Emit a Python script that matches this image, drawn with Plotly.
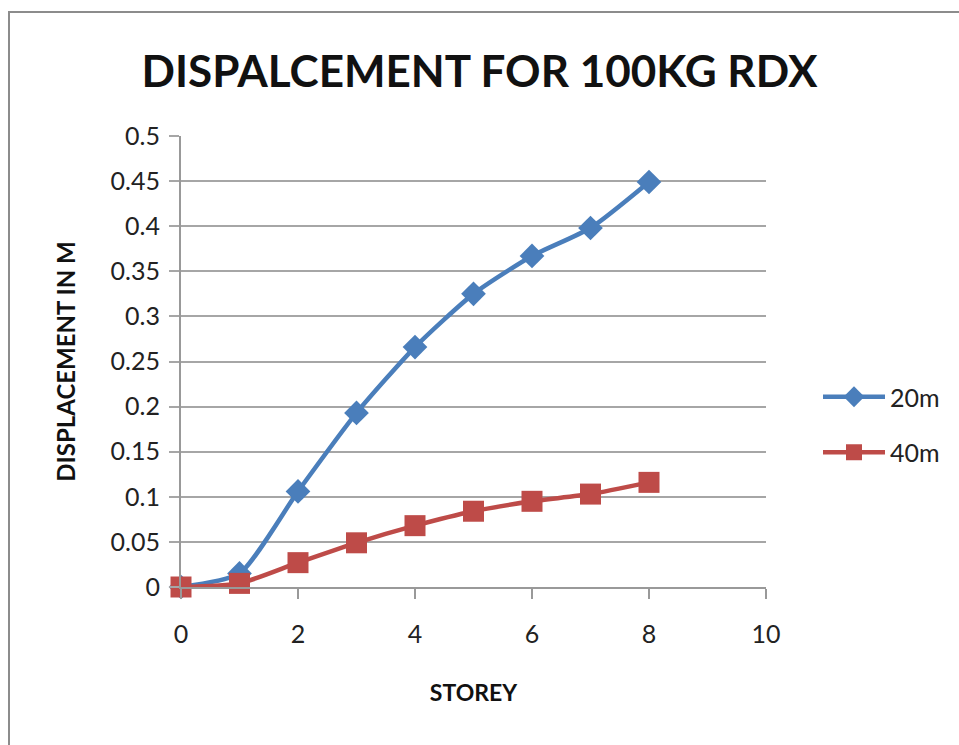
import plotly.graph_objects as go

storey = [0, 1, 2, 3, 4, 5, 6, 7, 8]
disp_20m = [0.0, 0.015, 0.106, 0.193, 0.266, 0.325, 0.367, 0.398, 0.449]
disp_40m = [0.0, 0.004, 0.027, 0.049, 0.068, 0.084, 0.095, 0.103, 0.116]

BLUE = "#4a7ebb"
RED = "#be4b48"
FONT = "Lato"

fig = go.Figure()
fig.add_trace(go.Scatter(
    x=storey, y=disp_20m, name="20m", mode="lines+markers", legendgroup="a",
    line=dict(color=BLUE, width=4.5, shape="spline", smoothing=0.6),
    marker=dict(symbol="diamond", size=19, color=BLUE), cliponaxis=False,
))
fig.add_trace(go.Scatter(
    x=storey, y=disp_40m, name="40m", mode="lines+markers", legendgroup="b",
    line=dict(color=RED, width=4.5, shape="spline", smoothing=0.6),
    marker=dict(symbol="square", size=21, color=RED), cliponaxis=False,
))

L, R, T, B = 181, 766, 136, 587
W, H = 959, 745

def px2paper_x(px):
    return (px - L) / (R - L)

def px2paper_y(py):
    return (B - py) / (B - T)

fig.update_layout(
    width=W, height=H,
    margin=dict(l=L, r=W - R, t=T, b=H - B, pad=0),
    paper_bgcolor="white", plot_bgcolor="white",
    font=dict(family=FONT, color="#222222", size=25),
    title=dict(text="<b>DISPALCEMENT FOR 100KG RDX</b>",
               font=dict(family=FONT, size=44, color="#111111"),
               x=0.5, xanchor="center", y=1 - 72 / H, yanchor="middle"),
    showlegend=True,
    legend=dict(x=px2paper_x(818), y=px2paper_y(374), xanchor="left", yanchor="top",
                font=dict(family=FONT, size=25, color="#222222"),
                tracegroupgap=20, itemwidth=62, bgcolor="rgba(0,0,0,0)"),
    xaxis=dict(range=[0, 10], dtick=2, tick0=0, showgrid=False, zeroline=False,
               showline=True, linecolor="#999999", linewidth=2,
               ticks="outside", ticklen=10, tickcolor="#999999", tickwidth=2,
               ticklabelstandoff=14,
               tickfont=dict(family=FONT, size=25, color="#222222"),
               title=dict(text="<b>STOREY</b>", font=dict(family=FONT, size=23, color="#111111"),
                          standoff=38)),
    yaxis=dict(range=[0, 0.5], dtick=0.05, tick0=0, showgrid=True,
               gridcolor="#a6a6a6", gridwidth=2, zeroline=False,
               showline=True, linecolor="#999999", linewidth=2,
               ticks="outside", ticklen=10, tickcolor="#a6a6a6", tickwidth=2,
               tickfont=dict(family=FONT, size=25, color="#222222"),
               ticklabelstandoff=4,
               title=dict(text="<b>DISPLACEMENT IN M</b>", font=dict(family=FONT, size=24, color="#111111"),
                          standoff=28)),
)

# outer chart border (partially off-page, as in the reference)
fig.add_shape(type="rect", xref="paper", yref="paper",
              x0=px2paper_x(9), x1=px2paper_x(975), y0=px2paper_y(760), y1=px2paper_y(12),
              line=dict(color="#8c8c8c", width=2), fillcolor="rgba(0,0,0,0)", layer="below")

fig.write_html("out.html")
